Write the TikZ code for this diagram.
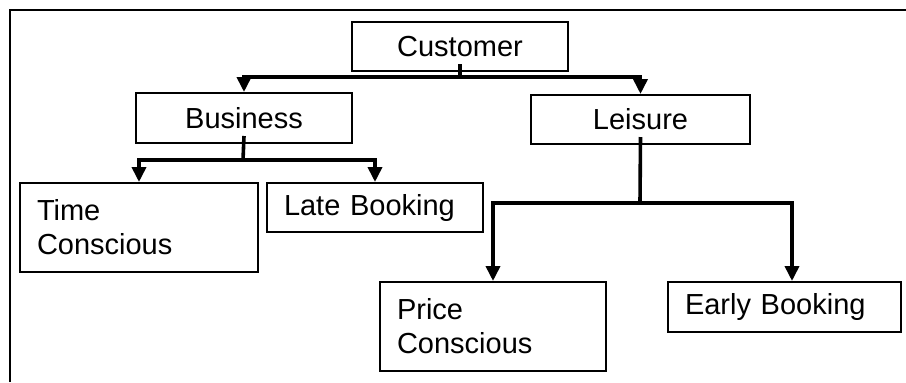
\documentclass[tikz,border=0pt]{standalone}
\usepackage{fontspec}
\setmainfont{Liberation Sans}
\usetikzlibrary{arrows.meta}

\tikzset{
  box/.style={draw, line width=1pt, inner sep=0pt, font=\fontsize{14.5}{17}\selectfont},
  top/.style={box, align=center, minimum height=24.5pt},
  leaf/.style={box, align=left, inner xsep=8.5pt},
  link/.style={line width=1.8pt},
  arr/.style={link, -{Triangle[width=7pt,length=7.5pt]}}
}

\begin{document}
\begin{tikzpicture}[x=0.5pt,y=-0.5pt]
\useasboundingbox (0,0) rectangle (906,382);
% frame
\draw[line width=1.1pt] (10,382) -- (10,10) -- (906,10);

% segments
\node[top, minimum width=108pt] (customer) at (460,46.5) {Customer};
\node[top, minimum width=108pt, minimum height=25pt] (business) at (244,118) {Business};
\node[top, minimum width=109.5pt] (leisure) at (640.5,119.5) {Leisure};

\node[leaf, text width=102pt, minimum height=44.5pt] (timecon) at (139,227.5) {Time\\Conscious};
\node[leaf, text width=91pt, minimum height=24.5pt] (latebook) at (375,207.5) {Late Booking};
\node[leaf, text width=96pt, minimum height=44.5pt] (pricecon) at (493,326.5) {Price\\Conscious};
\node[leaf, text width=99.5pt, minimum height=25pt] (earlybook) at (784.5,307) {Early Booking};

% forks
\coordinate (custfork) at (460,77);
\coordinate (busfork) at (243,160);
\coordinate (leisfork) at (640,203);

\draw[link] ([yshift=4pt]customer.south) -- (custfork);
\draw[arr] (custfork) -| (business.north);
\draw[arr] (custfork) -| (leisure.north);

\draw[link] ([yshift=4pt]business.south) -- (busfork);
\draw[arr] (busfork) -| (timecon.north);
\draw[arr] (busfork) -| (latebook.north);

\draw[link] ([yshift=4pt]leisure.south) -- (leisfork);
\draw[arr] (leisfork) -| (pricecon.north);
\draw[arr] (leisfork) -| ([xshift=3.75pt]earlybook.north);
\end{tikzpicture}
\end{document}
